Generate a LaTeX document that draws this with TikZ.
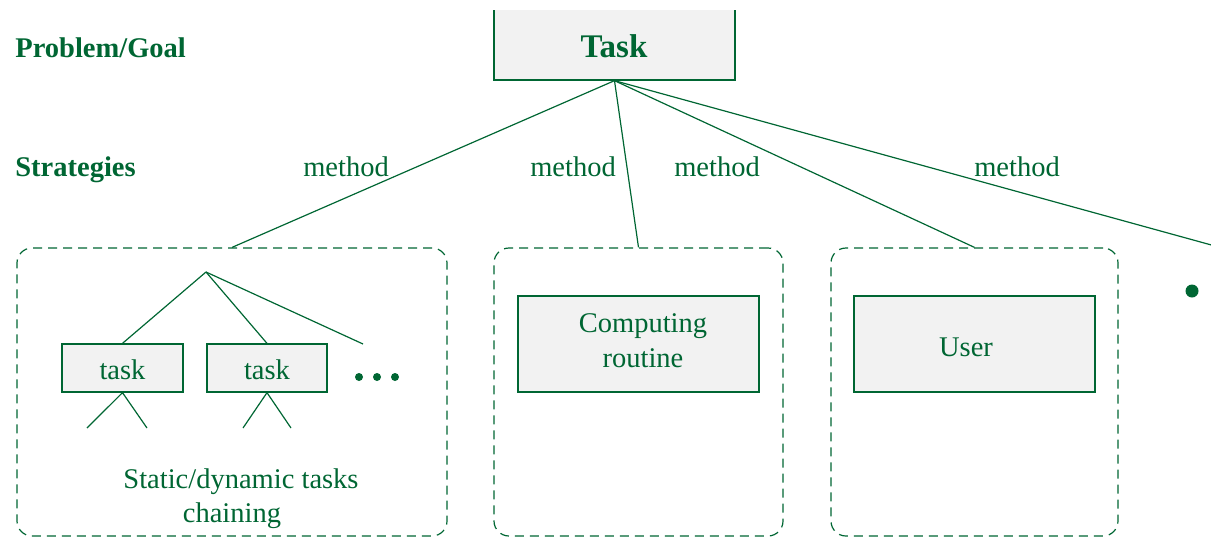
\documentclass[tikz,border=0pt]{standalone}
\usepackage{fontspec}
\setmainfont{Liberation Serif}
\definecolor{dg}{RGB}{0,102,51}
\definecolor{bx}{RGB}{242,242,242}
\tikzset{
  lbl/.style={text=dg, inner sep=0pt, font=\fontsize{14.25}{17}\selectfont},
  bold lbl/.style={lbl, font=\fontsize{14.25}{17}\selectfont\bfseries},
  title lbl/.style={lbl, font=\fontsize{16.5}{20}\selectfont\bfseries},
  box/.style={draw=dg, fill=bx, line width=0.65pt, inner sep=0pt, rectangle},
  group/.style={draw=dg, line width=0.6pt, dash pattern=on 4.5pt off 3pt, rounded corners=7.5pt, inner sep=0pt, rectangle},
  link/.style={draw=dg, line width=0.6pt},
  dot/.style={circle, fill=dg, inner sep=0pt},
}
\begin{document}
\begin{tikzpicture}[x=0.5pt,y=-0.5pt]
\path[use as bounding box] (0,0) rectangle (1211,536);
\begin{scope}
\clip (0,10) rectangle (1211,536);
% top task box
\node[box, minimum width=120.5pt, minimum height=45pt] (task) at (614.5,35) {};
\node[title lbl, anchor=base] (tasktxt) at (614,57) {Task};
% row labels
\node[bold lbl, anchor=base west] (pg) at (15,57) {Problem/Goal};
\node[bold lbl, anchor=base west] (strat) at (15,176) {Strategies};
% method labels
\node[lbl, anchor=base] (m1) at (346,176) {method};
\node[lbl, anchor=base] (m2) at (573,176) {method};
\node[lbl, anchor=base] (m3) at (717,176) {method};
\node[lbl, anchor=base] (m4) at (1017,176) {method};
% dashed groups
\node[group, minimum width=215pt, minimum height=144pt] (g1) at (232,392) {};
\node[group, minimum width=144.5pt, minimum height=144pt] (g2) at (638.5,392) {};
\node[group, minimum width=143.5pt, minimum height=144pt] (g3) at (974.5,392) {};
\coordinate (far) at (1300,269.4);
\node[dot, minimum size=6.5pt] (bigdot) at (1192,291) {};
% connectors from task
\draw[link] (task.south) -- (g1.north);
\draw[link] (task.south) -- (g2.north);
\draw[link] (task.south) -- (g3.north);
\draw[link] (task.south) -- (far);
% group 1 content
\coordinate (apex) at (206,272);
\node[box, minimum width=60.5pt, minimum height=24pt] (t1) at (122.5,368) {};
\node[box, minimum width=60pt, minimum height=24pt] (t2) at (267,368) {};
\node[lbl, anchor=base] (t1txt) at (122.5,379) {task};
\node[lbl, anchor=base] (t2txt) at (267,379) {task};
\coordinate (more) at (363,344);
\draw[link] (apex) -- (t1.north);
\draw[link] (apex) -- (t2.north);
\draw[link] (apex) -- (more);
\coordinate (t1a) at (87,428);
\coordinate (t1b) at (147,428);
\coordinate (t2a) at (243,428);
\coordinate (t2b) at (291,428);
\draw[link] (t1a) -- (t1.south) -- (t1b);
\draw[link] (t2a) -- (t2.south) -- (t2b);
\node[dot, minimum size=4pt] (d1) at (359,377) {};
\node[dot, minimum size=4pt] (d2) at (377,377) {};
\node[dot, minimum size=4pt] (d3) at (395,377) {};
\node[lbl, anchor=base] (sd1) at (241,488) {Static/dynamic tasks};
\node[lbl, anchor=base] (sd2) at (232,522) {chaining};
% group 2 content
\node[box, minimum width=120.5pt, minimum height=48pt] (cb) at (638.5,344) {};
\node[lbl, anchor=base] (cb1) at (643,332) {Computing};
\node[lbl, anchor=base] (cb2) at (643,367) {routine};
% group 3 content
\node[box, minimum width=120.5pt, minimum height=48pt] (ub) at (974.5,344) {};
\node[lbl, anchor=base] (ubt) at (966,356) {User};
\end{scope}
\end{tikzpicture}
\end{document}
